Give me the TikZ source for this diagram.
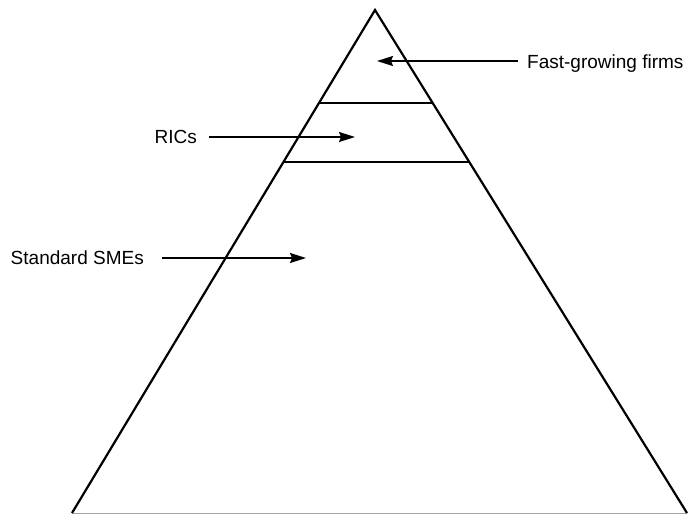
\documentclass[tikz,border=0pt]{standalone}
\usepackage{fontspec}
\setmainfont{Liberation Sans}
\usetikzlibrary{arrows.meta}
\begin{document}
\begin{tikzpicture}[x=1pt,y=-1pt,
  every node/.style={inner sep=0pt,font=\fontsize{19}{22}\selectfont},
  side/.style={line width=2.2pt},
  band/.style={line width=1.5pt},
  pointer/.style={line width=1.5pt,-{Stealth[length=16pt,width=10pt,inset=2pt]}}]
\useasboundingbox (0,0) rectangle (688,515);
% pyramid
\coordinate (top) at (375,10);
\coordinate (left) at (72,513);
\coordinate (right) at (687,513);
\draw[gray!70,line width=0.8pt] (left) -- (right);
\draw[side] (left) -- (top) -- (right);
\coordinate (b1l) at (319,103);
\coordinate (b1r) at (433,103);
\coordinate (b2l) at (284,162);
\coordinate (b2r) at (470,162);
\draw[band] (b1l) -- (b1r);
\draw[band] (b2l) -- (b2r);
% labels
\node[anchor=base west] (fast) at (527,68) {Fast-growing firms};
\node[anchor=base east] (rics) at (197,143) {RICs};
\node[anchor=base east] (sme) at (144,264) {Standard SMEs};
\coordinate (fasttip) at (377,61);
\coordinate (ricstip) at (355,137);
\coordinate (smetip) at (306,258);
\draw[pointer,shorten <=9pt] (fast.west |- fasttip) -- (fasttip);
\draw[pointer,shorten <=12pt] (rics.east |- ricstip) -- (ricstip);
\draw[pointer,shorten <=18pt] (sme.east |- smetip) -- (smetip);
\end{tikzpicture}
\end{document}
